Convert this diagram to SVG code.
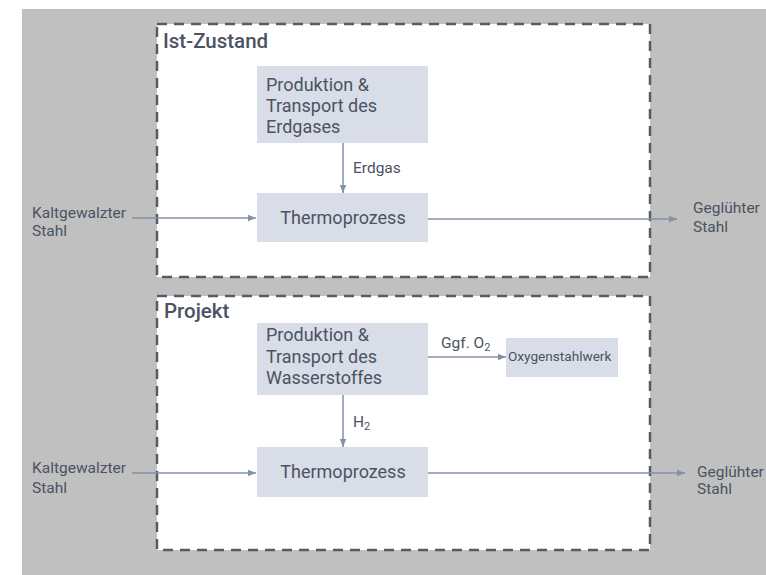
<svg xmlns="http://www.w3.org/2000/svg" width="766" height="575" viewBox="0 0 766 575">
<style>
.frame{fill:#ffffff;stroke:#535c6b;stroke-width:2.5;stroke-dasharray:10 7}
.box{fill:#d9dde7}
.t{font-family:Roboto,"Liberation Sans",sans-serif;fill:#4b5363}
.title{font-size:20.5px;font-weight:500}
.node{font-size:18px}
.lbl{font-size:15.5px}
.small{font-size:13.6px}
.conn{stroke:#8591a6;stroke-width:1.5;fill:none}
</style>
<defs>
<marker id="ah" viewBox="0 0 10 10" refX="10" refY="5" markerWidth="8" markerHeight="8" markerUnits="userSpaceOnUse" orient="auto">
<path d="M0,1 L10,5 L0,9 Z" fill="#8591a6"/>
</marker>
</defs>
<rect x="22" y="9" width="744" height="566" fill="#c0c0c0"/>
<g id="ist-zustand">
<rect class="frame" x="157" y="24" width="493" height="253"/>
<text class="t title" x="163" y="48">Ist-Zustand</text>
</g>
<g id="projekt">
<rect class="frame" x="157" y="296" width="493" height="254"/>
<text class="t title" x="164" y="318">Projekt</text>
</g>
<g id="prod-erdgas">
<rect class="box" x="257" y="66" width="171" height="77"/>
<text class="t node" x="266" y="91">Produktion &amp;</text>
<text class="t node" x="266" y="112">Transport des</text>
<text class="t node" x="266" y="133">Erdgases</text>
</g>
<g id="thermo1">
<rect class="box" x="257" y="193" width="171" height="49"/>
<text class="t node" x="343" y="224" text-anchor="middle">Thermoprozess</text>
</g>
<g id="prod-h2">
<rect class="box" x="257" y="323" width="171" height="72"/>
<text class="t node" x="266" y="341">Produktion &amp;</text>
<text class="t node" x="266" y="363">Transport des</text>
<text class="t node" x="266" y="384">Wasserstoffes</text>
</g>
<g id="oxygen">
<rect class="box" x="506" y="338" width="112" height="39"/>
<text class="t small" x="508" y="361">Oxygenstahlwerk</text>
</g>
<g id="thermo2">
<rect class="box" x="257" y="447" width="171" height="50"/>
<text class="t node" x="343" y="478" text-anchor="middle">Thermoprozess</text>
</g>
<g id="in1">
<text class="t lbl" x="32" y="218">Kaltgewalzter</text>
<text class="t lbl" x="32" y="236">Stahl</text>
</g>
<g id="out1">
<text class="t lbl" x="693" y="213">Geglühter</text>
<text class="t lbl" x="693" y="232">Stahl</text>
</g>
<g id="in2">
<text class="t lbl" x="32" y="473">Kaltgewalzter</text>
<text class="t lbl" x="32" y="493">Stahl</text>
</g>
<g id="out2">
<text class="t lbl" x="697" y="477">Geglühter</text>
<text class="t lbl" x="697" y="494">Stahl</text>
</g>
<g id="connectors">
<line class="conn" x1="343" y1="143" x2="343" y2="193" marker-end="url(#ah)"/>
<text class="t lbl" x="353" y="173">Erdgas</text>
<line class="conn" x1="132" y1="218" x2="256" y2="218" marker-end="url(#ah)"/>
<line class="conn" x1="428" y1="219" x2="677" y2="219" marker-end="url(#ah)"/>
<line class="conn" x1="428" y1="357" x2="506" y2="357" marker-end="url(#ah)"/>
<text class="t lbl" x="441" y="348">Ggf. O<tspan font-size="11" dy="3">2</tspan></text>
<line class="conn" x1="343" y1="395" x2="343" y2="447" marker-end="url(#ah)"/>
<text class="t lbl" x="353" y="427">H<tspan font-size="11" dy="3">2</tspan></text>
<line class="conn" x1="132" y1="473" x2="256" y2="473" marker-end="url(#ah)"/>
<line class="conn" x1="428" y1="473" x2="685" y2="473" marker-end="url(#ah)"/>
</g>
</svg>
